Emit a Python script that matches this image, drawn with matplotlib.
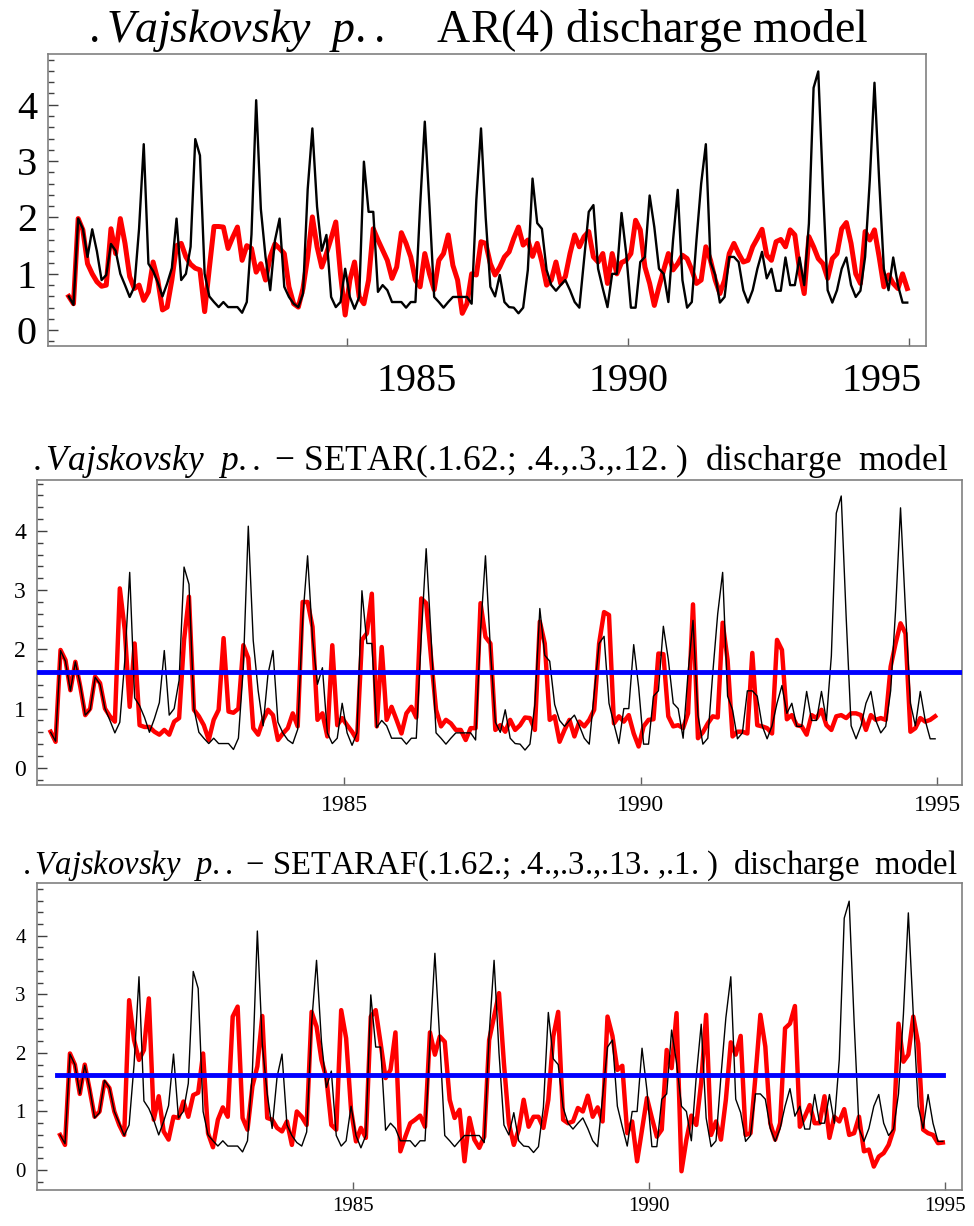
import numpy as np
import matplotlib.pyplot as plt
from matplotlib.ticker import MultipleLocator
from matplotlib.transforms import ScaledTranslation

plt.rcParams["font.family"] = ["Liberation Serif", "DejaVu Serif"]
plt.rcParams["mathtext.fontset"] = "custom"
plt.rcParams["mathtext.rm"] = "Liberation Serif"
plt.rcParams["mathtext.it"] = "Liberation Serif:italic"

# monthly discharge, observed (black) and the three model fits (red)
observed = [
    0.60, 0.45, 1.98, 1.80, 1.30, 1.79, 1.40, 0.89, 0.98, 1.53,
    1.41, 1.00, 0.80, 0.59, 0.77, 1.80, 3.30, 1.18, 1.05, 0.85,
    0.60, 0.83, 1.10, 1.98, 0.89, 1.00, 1.48, 3.39, 3.10, 1.00,
    0.60, 0.50, 0.41, 0.50, 0.41, 0.41, 0.41, 0.31, 0.50, 1.70,
    4.08, 2.15, 1.30, 0.71, 1.59, 1.98, 0.77, 0.59, 0.47, 0.41,
    0.65, 2.50, 3.58, 2.19, 1.41, 1.69, 0.59, 0.41, 0.50, 1.09,
    0.59, 0.38, 0.59, 2.99, 2.10, 2.10, 0.68, 0.80, 0.71, 0.50,
    0.50, 0.50, 0.40, 0.50, 0.50, 2.20, 3.70, 2.20, 0.59, 0.50,
    0.40, 0.50, 0.59, 0.59, 0.59, 0.59, 0.47, 2.31, 3.58, 2.00,
    0.77, 0.60, 0.98, 0.50, 0.41, 0.40, 0.30, 0.40, 1.07, 2.69,
    1.90, 1.80, 1.07, 0.80, 0.70, 0.80, 0.89, 0.71, 0.50, 0.40,
    1.25, 2.10, 2.22, 1.09, 0.74, 0.41, 1.00, 1.00, 2.08, 1.36,
    0.40, 0.40, 1.21, 1.30, 2.39, 1.83, 1.09, 1.00, 0.50, 1.60,
    2.49, 0.89, 0.40, 0.50, 1.60, 2.60, 3.30, 1.21, 0.98, 0.49,
    0.59, 1.30, 1.30, 1.21, 0.71, 0.49, 0.71, 1.09, 1.39, 0.92,
    1.09, 0.70, 0.70, 1.29, 0.80, 0.80, 1.29, 0.80, 1.89, 4.30,
    4.59, 2.54, 0.71, 0.49, 0.71, 1.09, 1.29, 0.80, 0.59, 0.70,
    1.30, 2.66, 4.39, 2.66, 1.09, 0.71, 1.29, 0.80, 0.49, 0.49,
]

ar_model = [
    0.60, 0.47, 1.98, 1.78, 1.18, 1.00, 0.86, 0.78, 0.80, 1.80,
    1.36, 1.98, 1.54, 0.95, 0.74, 0.80, 0.53, 0.68, 1.21, 0.89,
    0.36, 0.41, 0.89, 1.50, 1.54, 1.30, 1.17, 1.10, 1.07, 0.33,
    1.10, 1.84, 1.84, 1.83, 1.45, 1.65, 1.83, 1.24, 1.50, 1.45,
    1.03, 1.18, 0.89, 1.30, 1.53, 1.45, 1.36, 0.77, 0.47, 0.41,
    0.74, 1.30, 2.01, 1.48, 1.12, 1.36, 1.63, 1.92, 1.00, 0.27,
    0.89, 1.21, 0.59, 0.47, 0.89, 1.80, 1.60, 1.42, 1.24, 0.92,
    1.12, 1.73, 1.54, 1.30, 0.89, 0.77, 1.36, 1.00, 0.72, 1.24,
    1.36, 1.69, 1.15, 0.89, 0.30, 0.47, 1.00, 0.98, 1.57, 1.54,
    1.18, 0.98, 1.12, 1.30, 1.39, 1.63, 1.83, 1.51, 1.60, 1.31,
    1.54, 1.21, 0.80, 0.89, 1.21, 0.83, 0.95, 1.36, 1.69, 1.48,
    1.66, 1.75, 1.30, 1.21, 1.36, 0.83, 1.36, 1.00, 1.20, 1.24,
    1.36, 1.95, 1.78, 1.12, 0.83, 0.44, 0.77, 1.07, 1.36, 1.07,
    1.18, 1.33, 1.27, 1.07, 0.83, 0.89, 1.48, 1.24, 0.89, 0.65,
    0.89, 1.36, 1.54, 1.36, 1.21, 1.24, 1.48, 1.63, 1.79, 1.33,
    1.24, 1.57, 1.61, 1.48, 1.78, 1.69, 1.07, 0.65, 1.66, 1.48,
    1.27, 1.18, 0.92, 1.27, 1.36, 1.80, 1.91, 1.54, 1.00, 0.83,
    1.75, 1.60, 1.78, 1.30, 0.77, 0.98, 0.83, 0.74, 1.00, 0.74,
]

setar_model = [
    0.61, 0.44, 1.99, 1.82, 1.31, 1.79, 1.37, 0.89, 1.00, 1.54,
    1.43, 1.00, 0.87, 0.78, 3.03, 2.33, 1.03, 2.10, 0.72, 0.69,
    0.69, 0.61, 0.56, 0.64, 0.56, 0.78, 0.84, 2.16, 2.89, 0.98,
    0.87, 0.72, 0.47, 0.81, 0.98, 2.19, 0.95, 0.93, 1.00, 2.07,
    1.85, 0.67, 0.56, 0.81, 0.98, 0.89, 0.47, 0.58, 0.67, 0.92,
    0.70, 2.80, 2.80, 2.38, 0.81, 0.92, 0.53, 2.07, 0.72, 0.84,
    0.72, 0.61, 0.47, 2.16, 2.27, 2.94, 0.70, 2.04, 0.81, 1.03,
    0.81, 0.58, 0.92, 1.03, 0.85, 2.86, 2.78, 1.85, 0.98, 0.70,
    0.81, 0.75, 0.64, 0.64, 0.47, 0.67, 0.67, 2.78, 2.21, 2.10,
    0.64, 0.72, 0.61, 0.81, 0.64, 0.72, 0.85, 0.84, 0.64, 2.47,
    2.10, 0.81, 0.87, 0.44, 0.64, 0.81, 0.53, 0.78, 0.70, 0.81,
    0.98, 2.10, 2.63, 2.58, 0.75, 0.87, 0.78, 0.89, 0.58, 0.36,
    0.70, 0.81, 0.82, 1.93, 1.92, 0.87, 0.70, 0.72, 0.67, 0.92,
    2.76, 0.50, 0.60, 0.75, 0.87, 0.85, 2.45, 1.82, 0.53, 0.61,
    0.61, 0.58, 1.94, 0.72, 0.70, 0.67, 0.58, 2.16, 1.99, 0.82,
    0.89, 0.72, 0.70, 0.56, 0.89, 0.84, 0.98, 0.72, 0.64, 0.87,
    0.89, 0.84, 0.92, 0.92, 0.89, 0.64, 0.89, 0.81, 0.84, 0.81,
    1.71, 2.10, 2.44, 2.27, 0.61, 0.67, 0.84, 0.78, 0.81, 0.87,
]

setaraf_model = [
    0.60, 0.43, 1.99, 1.80, 1.30, 1.80, 1.37, 0.91, 1.00, 1.51,
    1.40, 1.00, 0.77, 0.60, 2.90, 2.22, 1.88, 2.05, 2.93, 0.86,
    1.26, 0.66, 0.52, 0.91, 0.89, 1.17, 0.91, 1.28, 1.32, 1.99,
    0.63, 0.39, 0.86, 1.07, 0.91, 2.62, 2.79, 0.89, 0.69, 1.43,
    1.77, 2.63, 0.89, 0.86, 0.72, 0.66, 0.83, 0.43, 1.00, 0.91,
    0.77, 2.70, 2.45, 1.88, 1.57, 0.77, 0.69, 2.73, 2.25, 1.03,
    0.49, 0.72, 0.55, 2.62, 2.73, 2.16, 1.57, 1.71, 2.35, 0.32,
    0.57, 0.80, 0.86, 0.93, 0.74, 2.35, 1.97, 2.28, 2.19, 1.20,
    0.89, 1.03, 0.15, 0.89, 0.52, 0.38, 0.57, 2.22, 2.62, 3.02,
    1.82, 0.80, 0.43, 0.69, 1.20, 0.74, 0.91, 0.91, 0.72, 1.20,
    2.28, 2.70, 0.86, 0.80, 0.83, 1.06, 1.00, 1.27, 0.91, 1.07,
    0.83, 2.62, 2.29, 1.71, 1.78, 0.63, 0.83, 0.15, 0.69, 1.23,
    0.89, 0.57, 0.69, 2.05, 1.74, 2.68, -0.02, 0.52, 0.93, 0.77,
    1.50, 2.65, 0.60, 0.83, 0.52, 1.20, 2.18, 1.97, 2.29, 0.60,
    0.63, 1.60, 2.65, 2.11, 0.80, 0.52, 0.80, 2.42, 2.50, 2.80,
    0.74, 0.91, 1.11, 0.80, 0.80, 1.26, 0.55, 0.91, 0.83, 1.04,
    0.60, 0.63, 0.91, 0.32, 0.35, 0.06, 0.23, 0.29, 0.43, 0.69,
    2.50, 1.85, 1.97, 2.62, 2.16, 0.69, 0.63, 0.60, 0.46, 0.47,
]

threshold = 1.62
start_year = 1980.05
year_ticks = [1985, 1990, 1995]
y_ticks = [0, 1, 2, 3, 4]

t = start_year + np.arange(len(observed)) / 12

name = r"$\mathit{.Vajskovsky\ \ p..}$"
titles = [
    name + "    AR(4) discharge model",
    name + " \u2212 SETAR(.1.62.; .4.,.3.,.12. )  discharge  model",
    name + " \u2212 SETARAF(.1.62.; .4.,.3.,.13. ,.1. )  discharge  model",
]

fig = plt.figure(figsize=(9.74, 12.26), dpi=100)
W, H = 974, 1226


def panel(left, top, right, bottom, xlim, ylim, fs, title, title_fs, xpad):
    ax = fig.add_axes([left / W, 1 - bottom / H, (right - left) / W, (bottom - top) / H])
    ax.set_xlim(xlim)
    ax.set_ylim(ylim)
    for s in ax.spines.values():
        s.set_color("#808080")
        s.set_linewidth(1.2)
    ax.set_xticks(year_ticks)
    ax.set_yticks(y_ticks)
    ax.yaxis.set_minor_locator(MultipleLocator(0.2))
    ax.tick_params(axis="y", which="major", direction="in", length=7, width=1,
                   color="#404040", labelsize=fs, pad=8)
    ax.tick_params(axis="y", which="minor", direction="in", length=4, width=1,
                   color="#404040")
    ax.tick_params(axis="x", direction="in", length=6, width=1, color="#606060",
                   labelsize=fs, pad=xpad)
    ax.set_title(title, fontsize=title_fs, pad=3, x=0.49)
    return ax


ax1 = panel(48, 54, 926, 346, (1979.68, 1995.3), (-0.28, 4.9), 29, titles[0], 33, 12)
ax1.plot(t, ar_model, color="red", lw=3.6, zorder=2)
ax1.plot(t, observed, color="black", lw=1.7, zorder=3)
# the year labels of the top panel sit off their ticks in the original
for lab, dx in zip(ax1.get_xticklabels(), [70, 0, -28]):
    lab.set_transform(lab.get_transform() + ScaledTranslation(dx / 100, 0, fig.dpi_scale_trans))

ax2 = panel(37, 480, 962, 785, (1979.82, 1995.42), (-0.29, 4.86), 17, titles[1], 25.5, 7)
ax2.plot(t, setar_model, color="red", lw=3.2, zorder=2)
ax2.plot(t, observed, color="black", lw=1.0, zorder=3)
ax2.plot([1979.85, 1995.4], [threshold, threshold], color="blue", lw=3.5, zorder=4)

ax3 = panel(37, 883, 962, 1190, (1979.66, 1995.29), (-0.34, 4.9), 15, titles[2], 23.5, 5)
ax3.plot(t, setaraf_model, color="red", lw=3.2, zorder=2)
ax3.plot(t, observed, color="black", lw=1.0, zorder=3)
ax3.plot([t[0] - 0.05, t[-1]], [threshold, threshold], color="blue", lw=3.5, zorder=4)

fig.savefig("out.png", dpi=100)
